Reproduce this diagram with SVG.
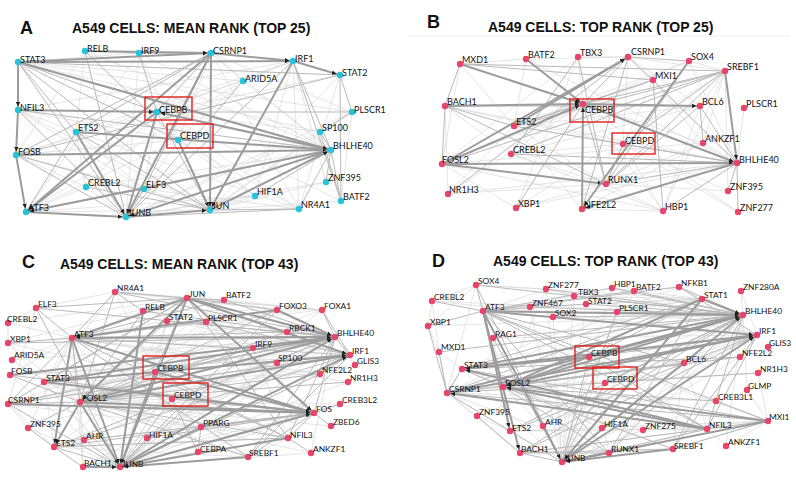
<svg xmlns="http://www.w3.org/2000/svg" width="796" height="479" viewBox="0 0 796 479">
<style>
.t{stroke:#d4d4d4;stroke-width:.6;fill:none}
.m{stroke:#b9b9b9;stroke-width:1;fill:none}
.k{stroke:#9c9c9c;stroke-width:2;fill:none;marker-end:url(#ah)}
.ca{fill:#26c3dc}
.cr{fill:#e8456b}
.l{font-family:Lato,"Liberation Sans",sans-serif;font-size:9px;fill:#111}
.s{font-size:8.4px}
.ttl{font-family:"Liberation Sans",Arial,sans-serif;font-weight:bold;font-size:14px;fill:#111}
.let{font-family:"Liberation Sans",Arial,sans-serif;font-weight:bold;font-size:18px;fill:#111}
.box{fill:none;stroke:#e0201c;stroke-width:1.4}
</style>
<defs>
<marker id="ah" viewBox="0 0 6 6" refX="11" refY="3" markerWidth="4.5" markerHeight="4.5" markerUnits="userSpaceOnUse" orient="auto"><path d="M0 0L6 3L0 6z" fill="#1e1e1e"/></marker>
</defs>
<rect width="796" height="479" fill="#fff"/>
<g id="titles">
<text class="let" x="20" y="34">A</text><text class="ttl" x="72" y="33">A549 CELLS: MEAN RANK (TOP 25)</text>
<text class="let" x="427" y="28">B</text><text class="ttl" x="488" y="32">A549 CELLS: TOP RANK (TOP 25)</text>
<line x1="408" y1="36" x2="790" y2="36" stroke="#eee" stroke-width="1"/>
<text class="let" x="22" y="268">C</text><text class="ttl" x="60" y="269">A549 CELLS: MEAN RANK (TOP 43)</text>
<text class="let" x="432" y="267">D</text><text class="ttl" x="493" y="266">A549 CELLS: TOP RANK (TOP 43)</text>
</g>
<g id="connectors">
<path class="t" d="M18 62L320 132M18 62L352 112M18 62L243 81M85 51L331 150M85 51L16 155M85 51L76 132M139 53L126 217M139 53L26 212M139 53L331 150M139 53L178 140M211 53L331 150M211 53L178 140M211 53L352 112M211 53L299 209M293 61L157 112M293 61L18 110M293 61L76 132M293 61L255 196M293 61L326 182M293 61L299 209M340 75L157 112M340 75L299 209M340 75L210 210M243 81L331 150M243 81L26 212M243 81L16 155M243 81L178 140M18 110L210 210M18 110L76 132M18 110L144 189M18 110L178 140M157 112L16 155M157 112L86 187M157 112L144 189M157 112L299 209M157 112L255 196M178 140L26 212M178 140L126 217M178 140L16 155M178 140L331 150M178 140L76 132M178 140L299 209M76 132L144 189M76 132L86 187M16 155L144 189M16 155L86 187M86 187L331 150M86 187L26 212M86 187L126 217M144 189L210 210M144 189L299 209M255 196L126 217M255 196L210 210M255 196L26 212M255 196L178 140M326 182L210 210M326 182L126 217M341 201L210 210M341 201L157 112M352 112L210 210M352 112L126 217M320 132L126 217M320 132L157 112M320 132L210 210M299 209L26 212M299 209L76 132M352 112L341 201M243 81L293 61M243 81L211 53M139 53L18 62"/>
<path class="m" d="M18 62L340 75M139 53L211 53M85 51L139 53M18 62L157 112M18 62L178 140M18 62L210 210M18 62L76 132M18 62L126 217M85 51L126 217M85 51L178 140M139 53L157 112M211 53L76 132M211 53L157 112M211 53L16 155M211 53L144 189M293 61L331 150M293 61L341 201M293 61L126 217M340 75L352 112M340 75L341 201M340 75L16 155M157 112L352 112M157 112L210 210M76 132L26 212M76 132L210 210M16 155L126 217M16 155L210 210M18 110L126 217M18 110L331 150M331 150L144 189M331 150L255 196M331 150L299 209M331 150L320 132M144 189L126 217M144 189L26 212M352 112L320 132M320 132L341 201M331 150L326 182M331 150L341 201M86 187L210 210M126 217L299 209M243 81L126 217M210 210L299 209"/>
<path class="k" d="M18 62L211 53"/><path class="k" d="M18 62L293 61"/><path class="k" d="M85 51L211 53"/><path class="k" d="M211 53L293 61"/><path class="k" d="M293 61L340 75"/><path class="k" d="M18 62L18 110"/><path class="k" d="M18 110L16 155"/><path class="k" d="M16 155L26 212"/><path class="k" d="M26 212L126 217"/><path class="k" d="M126 217L210 210"/><path class="k" d="M18 110L157 112"/><path class="k" d="M16 155L331 150"/><path class="k" d="M211 53L210 210"/><path class="k" d="M211 53L26 212"/><path class="k" d="M211 53L126 217"/><path class="k" d="M157 112L126 217"/><path class="k" d="M157 112L26 212"/><path class="k" d="M331 150L26 212"/><path class="k" d="M331 150L126 217"/><path class="k" d="M76 132L331 150"/><path class="k" d="M331 150L157 112"/><path class="k" d="M210 210L331 150"/><path class="k" d="M18 62L331 150"/><path class="k" d="M76 132L126 217"/><path class="k" d="M178 140L210 210"/><path class="k" d="M293 61L210 210"/>

<path class="t" d="M460 64L526 59M526 59L628 57M578 57L628 57M628 57L725 71M689 61L725 71M526 59L514 126M526 59L737 163M578 57L583 104M578 57L442 164M628 57L737 163M628 57L700 106M628 57L623 144M689 61L514 126M689 61L737 163M689 61L442 164M725 71L700 106M725 71L663 211M725 71L728 191M725 71L703 143M653 80L703 143M653 80L442 164M653 80L606 184M445 106L623 144M445 106L511 154M445 106L448 194M445 106L737 163M583 104L448 194M583 104L703 143M583 104L663 211M583 104L738 212M514 126L606 184M514 126L623 144M514 126L582 209M511 154L606 184M511 154L623 144M511 154L663 211M442 164L516 208M442 164L663 211M442 164L703 143M448 194L606 184M448 194L514 126M448 194L737 163M516 208L606 184M516 208L737 163M582 209L663 211M606 184L728 191M606 184L663 211M703 143L737 163M703 143L606 184M703 143L582 209M728 191L623 144M738 212L623 144M663 211L623 144M744 108L737 163M700 106L511 154M700 106L514 126M700 106L663 211M460 64L442 164M460 64L514 126M578 57L516 208M725 71L516 208"/>
<path class="m" d="M445 106L514 126M445 106L606 184M445 106L700 106M445 106L460 64M445 106L442 164M460 64L725 71M460 64L653 80M583 104L628 57M583 104L653 80M583 104L725 71M583 104L514 126M583 104L516 208M583 104L606 184M725 71L514 126M725 71L442 164M725 71L511 154M725 71L606 184M725 71L623 144M737 163L514 126M737 163L511 154M737 163L623 144M737 163L728 191M737 163L738 212M737 163L663 211M737 163L606 184M737 163L653 80M737 163L700 106M689 61L628 57M689 61L606 184M628 57L582 209M628 57L448 194M653 80L514 126M653 80L663 211M578 57L606 184M578 57L511 154M623 144L606 184M700 106L703 143M628 57L653 80M700 106L606 184"/>
<path class="k" d="M442 164L737 163"/><path class="k" d="M442 164L606 184"/><path class="k" d="M442 164L628 57"/><path class="k" d="M460 64L583 104"/><path class="k" d="M526 59L583 104"/><path class="k" d="M582 209L583 104"/><path class="k" d="M583 104L700 106"/><path class="k" d="M725 71L737 163"/><path class="k" d="M737 163L582 209"/><path class="k" d="M689 61L582 209"/><path class="k" d="M583 104L737 163"/><path class="k" d="M445 106L583 104"/><path class="k" d="M442 164L583 104"/><path class="k" d="M514 126L628 57"/>

<path class="t" d="M12 360L335 337M12 360L187 298M12 360L80 402M8 323L72 338M8 323L187 298M8 323L36 308M8 323L8 343M36 308L115 292M36 308L8 404M115 292L224 300M115 292L277 310M115 292L322 310M115 292L44 382M115 292L155 372M187 298L322 310M187 298L287 332M187 298L206 322M187 298L167 321M187 298L253 348M224 300L277 310M224 300L322 310M224 300L120 467M224 300L80 402M277 310L322 310M277 310L155 372M277 310L44 382M277 310L8 404M322 310L72 338M322 310L120 467M322 310L80 402M143 311L277 310M143 311L72 338M143 311L350 355M167 321L350 355M167 321L120 467M167 321L72 338M206 322L314 413M206 322L120 467M206 322L80 402M287 332L335 337M287 332L350 355M287 332L120 467M287 332L44 382M253 348L72 338M253 348L335 337M253 348L8 404M253 348L288 438M277 363L80 402M277 363L72 338M277 363L120 467M355 365L335 337M355 365L80 402M320 374L72 338M320 374L44 382M348 382L120 467M348 382L72 338M340 404L80 402M340 404L120 467M331 426L80 402M201 427L80 402M201 427L120 467M201 427L335 337M201 427L72 338M147 438L335 337M147 438L80 402M147 438L72 338M147 438L314 413M84 440L335 337M84 440L187 298M84 440L314 413M84 440L72 338M28 428L335 337M28 428L72 338M28 428L120 467M10 375L72 338M10 375L120 467M10 375L350 355M44 382L120 467M44 382L54 447M44 382L72 338M8 404L54 447M8 404L28 428M8 404L350 355M54 447L72 338M54 447L248 457M54 447L288 438M83 467L80 402M83 467L314 413M83 467L335 337M83 467L72 338M198 452L120 467M198 452L314 413M198 452L335 337M248 457L288 438M248 457L155 372M248 457L44 382M311 453L335 337M311 453L80 402M311 453L120 467M288 438L44 382M288 438L8 404M350 355L155 372M350 355L10 375M8 343L80 402M8 343L314 413M8 343L120 467M8 343L187 298M172 399L80 402M172 399L335 337M172 399L44 382M155 372L8 404M155 372L54 447M253 348L155 372M206 322L155 372M167 321L155 372"/>
<path class="m" d="M115 292L187 298M115 292L72 338M115 292L80 402M115 292L143 311M115 292L335 337M187 298L224 300M187 298L277 310M187 298L143 311M187 298L8 404M187 298L155 372M187 298L44 382M187 298L288 438M224 300L335 337M224 300L72 338M36 308L72 338M36 308L187 298M36 308L120 467M36 308L335 337M143 311L335 337M143 311L80 402M277 310L80 402M277 310L120 467M322 310L335 337M322 310L350 355M167 321L335 337M167 321L80 402M206 322L72 338M206 322L350 355M287 332L72 338M287 332L80 402M335 337L54 447M335 337L8 404M335 337L155 372M335 337L314 413M335 337L288 438M335 337L248 457M335 337L350 355M8 343L72 338M8 343L335 337M72 338L350 355M72 338L80 402M72 338L8 404M72 338L248 457M72 338L288 438M253 348L80 402M253 348L120 467M350 355L8 404M350 355L54 447M350 355L248 457M350 355L320 374M155 372L80 402M155 372L44 382M155 372L288 438M10 375L80 402M10 375L314 413M320 374L80 402M320 374L120 467M348 382L80 402M172 399L120 467M172 399L198 452M172 399L314 413M8 404L80 402M8 404L120 467M314 413L54 447M314 413L248 457M314 413L288 438M314 413L147 438M314 413L84 440M288 438L80 402M288 438L54 447M248 457L80 402M201 427L198 452M201 427L314 413M147 438L120 467M84 440L120 467M54 447L83 467M54 447L120 467M28 428L54 447M28 428L80 402M311 453L288 438M340 404L314 413M331 426L314 413"/>
<path class="k" d="M187 298L335 337"/><path class="k" d="M187 298L350 355"/><path class="k" d="M187 298L314 413"/><path class="k" d="M187 298L72 338"/><path class="k" d="M187 298L120 467"/><path class="k" d="M187 298L80 402"/><path class="k" d="M72 338L335 337"/><path class="k" d="M72 338L120 467"/><path class="k" d="M72 338L314 413"/><path class="k" d="M72 338L54 447"/><path class="k" d="M80 402L335 337"/><path class="k" d="M44 382L335 337"/><path class="k" d="M120 467L335 337"/><path class="k" d="M10 375L335 337"/><path class="k" d="M80 402L350 355"/><path class="k" d="M44 382L350 355"/><path class="k" d="M120 467L350 355"/><path class="k" d="M80 402L314 413"/><path class="k" d="M8 404L314 413"/><path class="k" d="M120 467L314 413"/><path class="k" d="M80 402L120 467"/><path class="k" d="M80 402L54 447"/><path class="k" d="M83 467L120 467"/><path class="k" d="M155 372L120 467"/><path class="k" d="M248 457L120 467"/><path class="k" d="M288 438L120 467"/><path class="k" d="M143 311L120 467"/><path class="k" d="M155 372L314 413"/><path class="k" d="M44 382L314 413"/><path class="k" d="M277 310L335 337"/><path class="k" d="M277 310L72 338"/>

<path class="t" d="M476 285L432 301M476 285L546 289M476 285L428 326M476 285L447 393M476 285L503 387M546 289L574 296M546 289L483 311M546 289L562 462M546 289L503 387M612 288L634 291M612 288L562 462M612 288L702 299M634 291L679 287M634 291L562 462M634 291L503 387M679 287L702 299M679 287L562 462M679 287L462 369M741 291L743 315M741 291L757 335M574 296L483 311M574 296L562 462M574 296L702 299M586 304L562 462M586 304L702 299M530 307L483 311M530 307L562 462M553 317L483 311M553 317L562 462M617 312L702 299M617 312L447 393M432 301L428 326M432 301L439 352M432 301L743 315M428 326L439 352M428 326L743 315M439 352L447 393M439 352L462 369M493 338L757 335M493 338L503 387M589 357L684 363M589 357L609 453M589 357L707 429M589 357L447 393M589 357L768 421M684 363L707 429M684 363L609 453M684 363L673 449M740 357L757 335M740 357L562 462M740 357L447 393M758 373L768 421M758 373L503 387M747 390L768 421M747 390L743 315M716 401L768 421M716 401L562 462M716 401L447 393M477 416L447 393M477 416L510 431M477 416L743 315M543 426L503 387M543 426L562 462M543 426L757 335M602 428L757 335M602 428L503 387M602 428L562 462M643 430L743 315M643 430L503 387M643 430L768 421M643 430L562 462M707 429L609 453M707 429L510 431M726 446L768 421M726 446L707 429M726 446L743 315M673 449L609 453M673 449L768 421M673 449L462 369M609 453L768 421M609 453L447 393M605 383L503 387M605 383L743 315M605 383L757 335M520 453L503 387M520 453L447 393M520 453L768 421M510 431L768 421M510 431L707 429M462 369L447 393M462 369L562 462M447 393L562 462M447 393L503 387M530 307L702 299M553 317L702 299M612 288L757 335M546 289L757 335M476 285L702 299M432 301L757 335"/>
<path class="m" d="M476 285L483 311M476 285L743 315M476 285L562 462M546 289L743 315M612 288L743 315M612 288L483 311M634 291L743 315M634 291L483 311M679 287L743 315M679 287L483 311M679 287L757 335M574 296L743 315M586 304L743 315M586 304L483 311M617 312L743 315M617 312L562 462M553 317L743 315M530 307L743 315M432 301L483 311M428 326L483 311M428 326L447 393M439 352L447 393M439 352L743 315M493 338L743 315M493 338L562 462M483 311L589 357M483 311L707 429M483 311L768 421M483 311L609 453M483 311L684 363M743 315L510 431M743 315L520 453M743 315L609 453M743 315L673 449M743 315L707 429M743 315L684 363M743 315L605 383M757 335L589 357M757 335L510 431M757 335L520 453M757 335L707 429M757 335L673 449M702 299L462 369M702 299L447 393M702 299L589 357M702 299L609 453M684 363L503 387M684 363L447 393M684 363L562 462M740 357L503 387M740 357L462 369M758 373L447 393M768 421L462 369M768 421L447 393M768 421L707 429M768 421L673 449M707 429L589 357M707 429L520 453M707 429L562 462M673 449L503 387M673 449L520 453M609 453L503 387M609 453L520 453M562 462L520 453M562 462L510 431M562 462L589 357M510 431L503 387M510 431L447 393M520 453L477 416M447 393L462 369M462 369L503 387M605 383L562 462M543 426L743 315M602 428L743 315M716 401L503 387"/>
<path class="k" d="M483 311L743 315"/><path class="k" d="M483 311L562 462"/><path class="k" d="M483 311L520 453"/><path class="k" d="M483 311L510 431"/><path class="k" d="M483 311L757 335"/><path class="k" d="M462 369L743 315"/><path class="k" d="M447 393L743 315"/><path class="k" d="M503 387L743 315"/><path class="k" d="M562 462L743 315"/><path class="k" d="M589 357L743 315"/><path class="k" d="M702 299L743 315"/><path class="k" d="M462 369L757 335"/><path class="k" d="M503 387L757 335"/><path class="k" d="M562 462L757 335"/><path class="k" d="M447 393L757 335"/><path class="k" d="M702 299L562 462"/><path class="k" d="M702 299L503 387"/><path class="k" d="M707 429L447 393"/><path class="k" d="M707 429L462 369"/><path class="k" d="M707 429L503 387"/><path class="k" d="M768 421L503 387"/><path class="k" d="M768 421L562 462"/><path class="k" d="M589 357L503 387"/><path class="k" d="M589 357L462 369"/><path class="k" d="M673 449L562 462"/><path class="k" d="M609 453L562 462"/>
</g>

<g id="boxes">
<rect class="box" x="145" y="97" width="47" height="23"/>
<rect class="box" x="167" y="124" width="46" height="24"/>
<rect class="box" x="570" y="99" width="44" height="23"/>
<rect class="box" x="612" y="133" width="43" height="21"/>
<rect class="box" x="143" y="356" width="46" height="23"/>
<rect class="box" x="163" y="383" width="45" height="23"/>
<rect class="box" x="575" y="346" width="44" height="22"/>
<rect class="box" x="593" y="367" width="44" height="22"/>
</g>

<g id="nodes-A">
<g id="a-STAT3"><circle class="ca" cx="18" cy="62" r="3.2"/><text class="l" x="20" y="63">STAT3</text></g>
<g id="a-RELB"><circle class="ca" cx="85" cy="51" r="3.2"/><text class="l" x="87" y="52">RELB</text></g>
<g id="a-IRF9"><circle class="ca" cx="139" cy="53" r="3.2"/><text class="l" x="141" y="54">IRF9</text></g>
<g id="a-CSRNP1"><circle class="ca" cx="211" cy="53" r="3.2"/><text class="l" x="213" y="54">CSRNP1</text></g>
<g id="a-IRF1"><circle class="ca" cx="293" cy="61" r="3.2"/><text class="l" x="295" y="62">IRF1</text></g>
<g id="a-STAT2"><circle class="ca" cx="340" cy="75" r="3.2"/><text class="l" x="342" y="76">STAT2</text></g>
<g id="a-ARID5A"><circle class="ca" cx="243" cy="81" r="3.2"/><text class="l" x="245" y="82">ARID5A</text></g>
<g id="a-NFIL3"><circle class="ca" cx="18" cy="110" r="3.2"/><text class="l" x="20" y="111">NFIL3</text></g>
<g id="a-CEBPB"><circle class="ca" cx="157" cy="112" r="3.2"/><text class="l" x="159" y="113">CEBPB</text></g>
<g id="a-PLSCR1"><circle class="ca" cx="352" cy="112" r="3.2"/><text class="l" x="354" y="113">PLSCR1</text></g>
<g id="a-ETS2"><circle class="ca" cx="76" cy="132" r="3.2"/><text class="l" x="78" y="131">ETS2</text></g>
<g id="a-CEBPD"><circle class="ca" cx="178" cy="140" r="3.2"/><text class="l" x="180" y="139">CEBPD</text></g>
<g id="a-SP100"><circle class="ca" cx="320" cy="132" r="3.2"/><text class="l" x="322" y="131">SP100</text></g>
<g id="a-BHLHE40"><circle class="ca" cx="331" cy="150" r="3.2"/><text class="l" x="333" y="149">BHLHE40</text></g>
<g id="a-FOSB"><circle class="ca" cx="16" cy="155" r="3.2"/><text class="l" x="18" y="155">FOSB</text></g>
<g id="a-CREBL2"><circle class="ca" cx="86" cy="187" r="3.2"/><text class="l" x="88" y="186">CREBL2</text></g>
<g id="a-ELF3"><circle class="ca" cx="144" cy="189" r="3.2"/><text class="l" x="146" y="188">ELF3</text></g>
<g id="a-ZNF395"><circle class="ca" cx="326" cy="182" r="3.2"/><text class="l" x="328" y="181">ZNF395</text></g>
<g id="a-HIF1A"><circle class="ca" cx="255" cy="196" r="3.2"/><text class="l" x="257" y="195">HIF1A</text></g>
<g id="a-BATF2"><circle class="ca" cx="341" cy="201" r="3.2"/><text class="l" x="343" y="200">BATF2</text></g>
<g id="a-ATF3"><circle class="ca" cx="26" cy="212" r="3.2"/><text class="l" x="28" y="211">ATF3</text></g>
<g id="a-JUNB"><circle class="ca" cx="126" cy="217" r="3.2"/><text class="l" x="128" y="216">JUNB</text></g>
<g id="a-JUN"><circle class="ca" cx="210" cy="210" r="3.2"/><text class="l" x="212" y="209">JUN</text></g>
<g id="a-NR4A1"><circle class="ca" cx="299" cy="209" r="3.2"/><text class="l" x="301" y="208">NR4A1</text></g>
</g>

<g id="nodes-B">
<g id="b-MXD1"><circle class="cr" cx="460" cy="64" r="3.2"/><text class="l" x="462" y="63">MXD1</text></g>
<g id="b-BATF2"><circle class="cr" cx="526" cy="59" r="3.2"/><text class="l" x="528" y="58">BATF2</text></g>
<g id="b-TBX3"><circle class="cr" cx="578" cy="57" r="3.2"/><text class="l" x="580" y="56">TBX3</text></g>
<g id="b-CSRNP1"><circle class="cr" cx="628" cy="57" r="3.2"/><text class="l" x="631" y="55">CSRNP1</text></g>
<g id="b-SOX4"><circle class="cr" cx="689" cy="61" r="3.2"/><text class="l" x="691" y="60">SOX4</text></g>
<g id="b-SREBF1"><circle class="cr" cx="725" cy="71" r="3.2"/><text class="l" x="727" y="70">SREBF1</text></g>
<g id="b-MXI1"><circle class="cr" cx="653" cy="80" r="3.2"/><text class="l" x="655" y="79">MXI1</text></g>
<g id="b-BACH1"><circle class="cr" cx="445" cy="106" r="3.2"/><text class="l" x="447" y="105">BACH1</text></g>
<g id="b-CEBPB"><circle class="cr" cx="583" cy="104" r="3.2"/><text class="l" x="585" y="113">CEBPB</text></g>
<g id="b-BCL6"><circle class="cr" cx="700" cy="106" r="3.2"/><text class="l" x="702" y="105">BCL6</text></g>
<g id="b-PLSCR1"><circle class="cr" cx="744" cy="108" r="3.2"/><text class="l" x="746" y="107">PLSCR1</text></g>
<g id="b-ETS2"><circle class="cr" cx="514" cy="126" r="3.2"/><text class="l" x="516" y="125">ETS2</text></g>
<g id="b-CEBPD"><circle class="cr" cx="623" cy="144" r="3.2"/><text class="l" x="625" y="144">CEBPD</text></g>
<g id="b-ANKZF1"><circle class="cr" cx="703" cy="143" r="3.2"/><text class="l" x="705" y="142">ANKZF1</text></g>
<g id="b-CREBL2"><circle class="cr" cx="511" cy="154" r="3.2"/><text class="l" x="513" y="153">CREBL2</text></g>
<g id="b-FOSL2"><circle class="cr" cx="442" cy="164" r="3.2"/><text class="l" x="442" y="163">FOSL2</text></g>
<g id="b-BHLHE40"><circle class="cr" cx="737" cy="163" r="3.2"/><text class="l" x="739" y="163">BHLHE40</text></g>
<g id="b-RUNX1"><circle class="cr" cx="606" cy="184" r="3.2"/><text class="l" x="608" y="183">RUNX1</text></g>
<g id="b-NR1H3"><circle class="cr" cx="448" cy="194" r="3.2"/><text class="l" x="449" y="193">NR1H3</text></g>
<g id="b-ZNF395"><circle class="cr" cx="728" cy="191" r="3.2"/><text class="l" x="730" y="190">ZNF395</text></g>
<g id="b-XBP1"><circle class="cr" cx="516" cy="208" r="3.2"/><text class="l" x="518" y="207">XBP1</text></g>
<g id="b-NFE2L2"><circle class="cr" cx="582" cy="209" r="3.2"/><text class="l" x="584" y="208">NFE2L2</text></g>
<g id="b-HBP1"><circle class="cr" cx="663" cy="211" r="3.2"/><text class="l" x="665" y="210">HBP1</text></g>
<g id="b-ZNF277"><circle class="cr" cx="738" cy="212" r="3.2"/><text class="l" x="740" y="211">ZNF277</text></g>
</g>

<g id="nodes-C">
<g id="c-NR4A1"><circle class="cr" cx="115" cy="292" r="3.2"/><text class="l s" x="117" y="291">NR4A1</text></g>
<g id="c-JUN"><circle class="cr" cx="187" cy="298" r="3.2"/><text class="l s" x="189" y="297">JUN</text></g>
<g id="c-BATF2"><circle class="cr" cx="224" cy="300" r="3.2"/><text class="l s" x="226" y="298">BATF2</text></g>
<g id="c-ELF3"><circle class="cr" cx="36" cy="308" r="3.2"/><text class="l s" x="38" y="307">ELF3</text></g>
<g id="c-RELB"><circle class="cr" cx="143" cy="311" r="3.2"/><text class="l s" x="145" y="310">RELB</text></g>
<g id="c-FOXO3"><circle class="cr" cx="277" cy="310" r="3.2"/><text class="l s" x="279" y="309">FOXO3</text></g>
<g id="c-FOXA1"><circle class="cr" cx="322" cy="310" r="3.2"/><text class="l s" x="324" y="309">FOXA1</text></g>
<g id="c-CREBL2"><circle class="cr" cx="8" cy="323" r="3.2"/><text class="l s" x="7" y="322">CREBL2</text></g>
<g id="c-STAT2"><circle class="cr" cx="167" cy="321" r="3.2"/><text class="l s" x="169" y="320">STAT2</text></g>
<g id="c-PLSCR1"><circle class="cr" cx="206" cy="322" r="3.2"/><text class="l s" x="208" y="321">PLSCR1</text></g>
<g id="c-RBCK1"><circle class="cr" cx="287" cy="332" r="3.2"/><text class="l s" x="289" y="331">RBCK1</text></g>
<g id="c-BHLHE40"><circle class="cr" cx="335" cy="337" r="3.2"/><text class="l s" x="337" y="336">BHLHE40</text></g>
<g id="c-XBP1"><circle class="cr" cx="8" cy="343" r="3.2"/><text class="l s" x="10" y="342">XBP1</text></g>
<g id="c-ATF3"><circle class="cr" cx="72" cy="338" r="3.2"/><text class="l s" x="74" y="337">ATF3</text></g>
<g id="c-IRF9"><circle class="cr" cx="253" cy="348" r="3.2"/><text class="l s" x="255" y="347">IRF9</text></g>
<g id="c-IRF1"><circle class="cr" cx="350" cy="355" r="3.2"/><text class="l s" x="352" y="354">IRF1</text></g>
<g id="c-ARID5A"><circle class="cr" cx="12" cy="360" r="3.2"/><text class="l s" x="14" y="358">ARID5A</text></g>
<g id="c-SP100"><circle class="cr" cx="277" cy="363" r="3.2"/><text class="l s" x="278" y="361">SP100</text></g>
<g id="c-GLIS3"><circle class="cr" cx="355" cy="365" r="3.2"/><text class="l s" x="357" y="364">GLIS3</text></g>
<g id="c-CEBPB"><circle class="cr" cx="155" cy="372" r="3.2"/><text class="l s" x="157" y="371">CEBPB</text></g>
<g id="c-FOSB"><circle class="cr" cx="10" cy="375" r="3.2"/><text class="l s" x="11" y="374">FOSB</text></g>
<g id="c-STAT3"><circle class="cr" cx="44" cy="382" r="3.2"/><text class="l s" x="46" y="381">STAT3</text></g>
<g id="c-NFE2L2"><circle class="cr" cx="320" cy="374" r="3.2"/><text class="l s" x="322" y="373">NFE2L2</text></g>
<g id="c-NR1H3"><circle class="cr" cx="348" cy="382" r="3.2"/><text class="l s" x="350" y="381">NR1H3</text></g>
<g id="c-CEBPD"><circle class="cr" cx="172" cy="399" r="3.2"/><text class="l s" x="174" y="398">CEBPD</text></g>
<g id="c-CSRNP1"><circle class="cr" cx="8" cy="404" r="3.2"/><text class="l s" x="8" y="403">CSRNP1</text></g>
<g id="c-FOSL2"><circle class="cr" cx="80" cy="402" r="3.2"/><text class="l s" x="82" y="401">FOSL2</text></g>
<g id="c-CREB3L2"><circle class="cr" cx="340" cy="404" r="3.2"/><text class="l s" x="342" y="403">CREB3L2</text></g>
<g id="c-FOS"><circle class="cr" cx="314" cy="413" r="3.2"/><text class="l s" x="316" y="412">FOS</text></g>
<g id="c-ZNF395"><circle class="cr" cx="28" cy="428" r="3.2"/><text class="l s" x="30" y="427">ZNF395</text></g>
<g id="c-ZBED6"><circle class="cr" cx="331" cy="426" r="3.2"/><text class="l s" x="333" y="425">ZBED6</text></g>
<g id="c-PPARG"><circle class="cr" cx="201" cy="427" r="3.2"/><text class="l s" x="203" y="426">PPARG</text></g>
<g id="c-AHR"><circle class="cr" cx="84" cy="440" r="3.2"/><text class="l s" x="86" y="439">AHR</text></g>
<g id="c-HIF1A"><circle class="cr" cx="147" cy="438" r="3.2"/><text class="l s" x="149" y="438">HIF1A</text></g>
<g id="c-NFIL3"><circle class="cr" cx="288" cy="438" r="3.2"/><text class="l s" x="290" y="438">NFIL3</text></g>
<g id="c-ETS2"><circle class="cr" cx="54" cy="447" r="3.2"/><text class="l s" x="56" y="446">ETS2</text></g>
<g id="c-ANKZF1"><circle class="cr" cx="311" cy="453" r="3.2"/><text class="l s" x="313" y="452">ANKZF1</text></g>
<g id="c-CEBPA"><circle class="cr" cx="198" cy="452" r="3.2"/><text class="l s" x="200" y="452">CEBPA</text></g>
<g id="c-SREBF1"><circle class="cr" cx="248" cy="457" r="3.2"/><text class="l s" x="249" y="456">SREBF1</text></g>
<g id="c-BACH1"><circle class="cr" cx="83" cy="467" r="3.2"/><text class="l s" x="84" y="466">BACH1</text></g>
<g id="c-JUNB"><circle class="cr" cx="120" cy="467" r="3.2"/><text class="l s" x="122" y="467">JUNB</text></g>
</g>

<g id="nodes-D">
<g id="d-SOX4"><circle class="cr" cx="476" cy="285" r="3.2"/><text class="l s" x="478" y="284">SOX4</text></g>
<g id="d-ZNF277"><circle class="cr" cx="546" cy="289" r="3.2"/><text class="l s" x="548" y="288">ZNF277</text></g>
<g id="d-HBP1"><circle class="cr" cx="612" cy="288" r="3.2"/><text class="l s" x="614" y="287">HBP1</text></g>
<g id="d-BATF2"><circle class="cr" cx="634" cy="291" r="3.2"/><text class="l s" x="636" y="290">BATF2</text></g>
<g id="d-NFKB1"><circle class="cr" cx="679" cy="287" r="3.2"/><text class="l s" x="681" y="286">NFKB1</text></g>
<g id="d-ZNF280A"><circle class="cr" cx="741" cy="291" r="3.2"/><text class="l s" x="743" y="290">ZNF280A</text></g>
<g id="d-TBX3"><circle class="cr" cx="574" cy="296" r="3.2"/><text class="l s" x="578" y="295">TBX3</text></g>
<g id="d-CREBL2"><circle class="cr" cx="432" cy="301" r="3.2"/><text class="l s" x="434" y="300">CREBL2</text></g>
<g id="d-STAT1"><circle class="cr" cx="702" cy="299" r="3.2"/><text class="l s" x="704" y="298">STAT1</text></g>
<g id="d-ZNF467"><circle class="cr" cx="530" cy="307" r="3.2"/><text class="l s" x="532" y="306">ZNF467</text></g>
<g id="d-STAT2"><circle class="cr" cx="586" cy="304" r="3.2"/><text class="l s" x="588" y="304">STAT2</text></g>
<g id="d-ATF3"><circle class="cr" cx="483" cy="311" r="3.2"/><text class="l s" x="485" y="310">ATF3</text></g>
<g id="d-PLSCR1"><circle class="cr" cx="617" cy="312" r="3.2"/><text class="l s" x="619" y="311">PLSCR1</text></g>
<g id="d-SOX2"><circle class="cr" cx="553" cy="317" r="3.2"/><text class="l s" x="555" y="316">SOX2</text></g>
<g id="d-BHLHE40"><circle class="cr" cx="743" cy="315" r="3.2"/><text class="l s" x="745" y="314">BHLHE40</text></g>
<g id="d-XBP1"><circle class="cr" cx="428" cy="326" r="3.2"/><text class="l s" x="430" y="325">XBP1</text></g>
<g id="d-IRF1"><circle class="cr" cx="757" cy="335" r="3.2"/><text class="l s" x="759" y="334">IRF1</text></g>
<g id="d-RAG1"><circle class="cr" cx="493" cy="338" r="3.2"/><text class="l s" x="495" y="337">RAG1</text></g>
<g id="d-GLIS3"><circle class="cr" cx="768" cy="347" r="3.2"/><text class="l s" x="769" y="346">GLIS3</text></g>
<g id="d-MXD1"><circle class="cr" cx="439" cy="352" r="3.2"/><text class="l s" x="441" y="350">MXD1</text></g>
<g id="d-CEBPB"><circle class="cr" cx="589" cy="357" r="3.2"/><text class="l s" x="591" y="356">CEBPB</text></g>
<g id="d-BCL6"><circle class="cr" cx="684" cy="363" r="3.2"/><text class="l s" x="686" y="362">BCL6</text></g>
<g id="d-NFE2L2"><circle class="cr" cx="740" cy="357" r="3.2"/><text class="l s" x="742" y="356">NFE2L2</text></g>
<g id="d-STAT3"><circle class="cr" cx="462" cy="369" r="3.2"/><text class="l s" x="464" y="368">STAT3</text></g>
<g id="d-NR1H3"><circle class="cr" cx="758" cy="373" r="3.2"/><text class="l s" x="760" y="372">NR1H3</text></g>
<g id="d-CEBPD"><circle class="cr" cx="605" cy="383" r="3.2"/><text class="l s" x="607" y="382">CEBPD</text></g>
<g id="d-FOSL2"><circle class="cr" cx="503" cy="387" r="3.2"/><text class="l s" x="505" y="386">FOSL2</text></g>
<g id="d-CSRNP1"><circle class="cr" cx="447" cy="393" r="3.2"/><text class="l s" x="449" y="392">CSRNP1</text></g>
<g id="d-GLMP"><circle class="cr" cx="747" cy="390" r="3.2"/><text class="l s" x="748" y="389">GLMP</text></g>
<g id="d-CREB3L1"><circle class="cr" cx="716" cy="401" r="3.2"/><text class="l s" x="718" y="400">CREB3L1</text></g>
<g id="d-ZNF395"><circle class="cr" cx="477" cy="416" r="3.2"/><text class="l s" x="479" y="415">ZNF395</text></g>
<g id="d-MXI1"><circle class="cr" cx="768" cy="421" r="3.2"/><text class="l s" x="769" y="420">MXI1</text></g>
<g id="d-AHR"><circle class="cr" cx="543" cy="426" r="3.2"/><text class="l s" x="545" y="425">AHR</text></g>
<g id="d-ETS2"><circle class="cr" cx="510" cy="431" r="3.2"/><text class="l s" x="512" y="431">ETS2</text></g>
<g id="d-HIF1A"><circle class="cr" cx="602" cy="428" r="3.2"/><text class="l s" x="604" y="427">HIF1A</text></g>
<g id="d-ZNF275"><circle class="cr" cx="643" cy="430" r="3.2"/><text class="l s" x="645" y="429">ZNF275</text></g>
<g id="d-NFIL3"><circle class="cr" cx="707" cy="429" r="3.2"/><text class="l s" x="709" y="428">NFIL3</text></g>
<g id="d-ANKZF1"><circle class="cr" cx="726" cy="446" r="3.2"/><text class="l s" x="728" y="445">ANKZF1</text></g>
<g id="d-SREBF1"><circle class="cr" cx="673" cy="449" r="3.2"/><text class="l s" x="674" y="449">SREBF1</text></g>
<g id="d-BACH1"><circle class="cr" cx="520" cy="453" r="3.2"/><text class="l s" x="521" y="452">BACH1</text></g>
<g id="d-RUNX1"><circle class="cr" cx="609" cy="453" r="3.2"/><text class="l s" x="611" y="452">RUNX1</text></g>
<g id="d-JUNB"><circle class="cr" cx="562" cy="462" r="3.2"/><text class="l s" x="564" y="461">JUNB</text></g>
</g>
</svg>
